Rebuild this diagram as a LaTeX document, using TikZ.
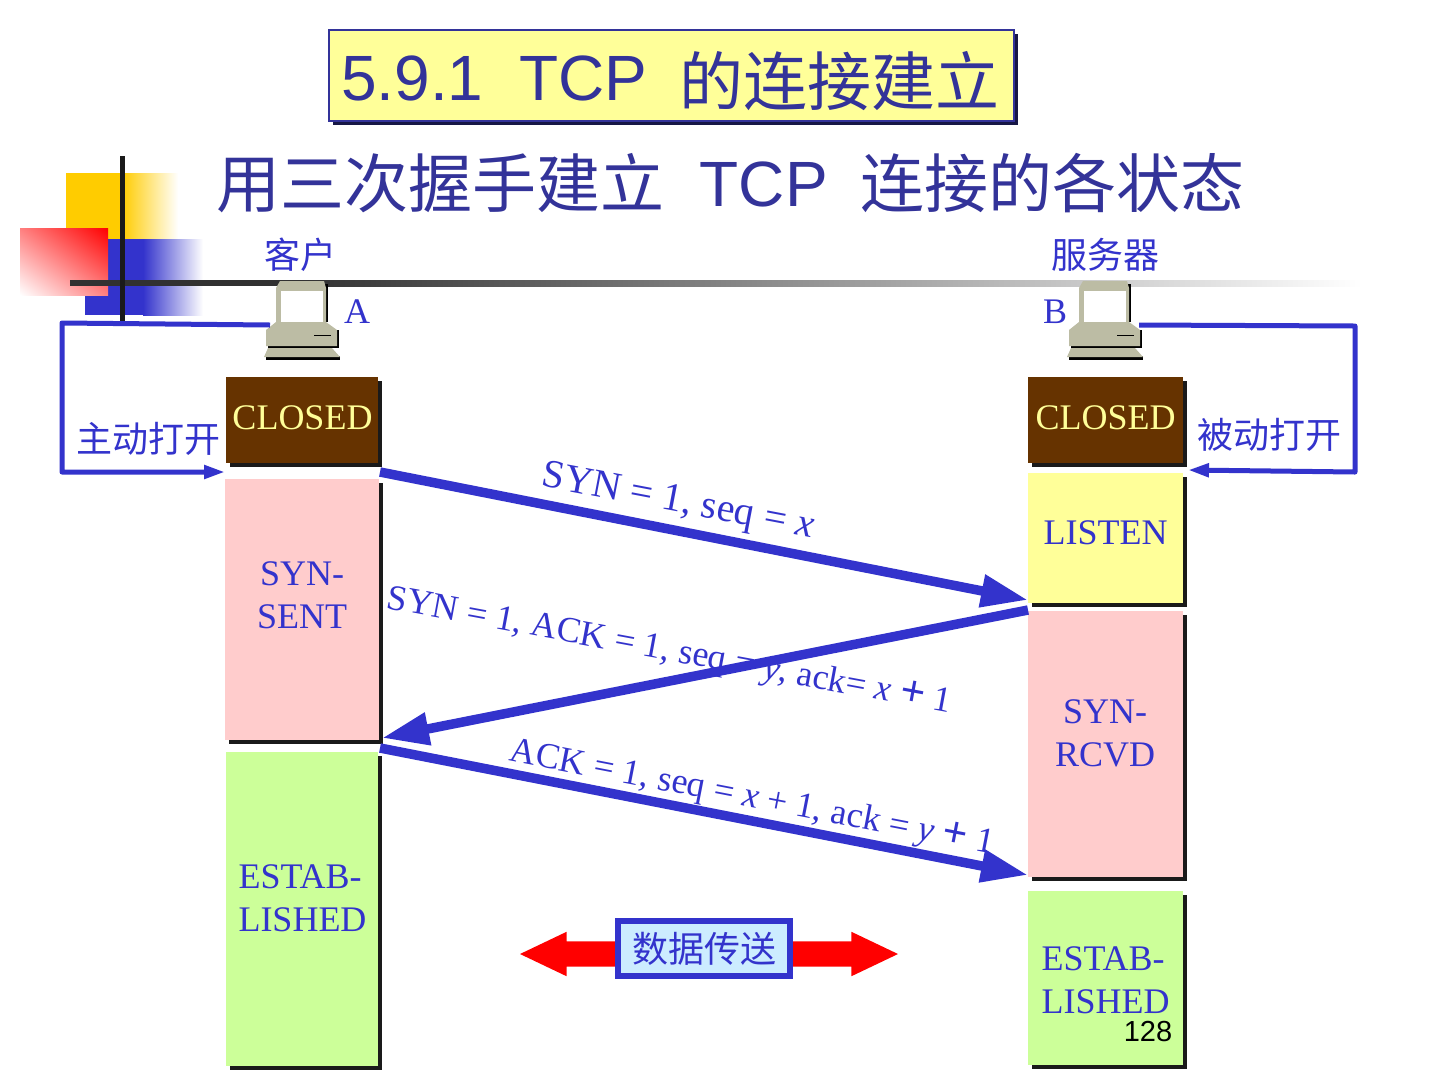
\documentclass[tikz,border=0pt]{standalone}
\usepackage{fontspec}
\setmainfont{Liberation Serif}
\setsansfont{Liberation Sans}
\newfontfamily\cjk{Noto Sans CJK SC}
\usetikzlibrary{arrows.meta,positioning,calc,shadows,shadings,shapes.arrows}
\definecolor{navy}{HTML}{333399}
\definecolor{blue}{HTML}{3333CC}
\definecolor{gold}{HTML}{FFCC00}
\definecolor{brown}{HTML}{663300}
\definecolor{cream}{HTML}{FFFF99}
\definecolor{pink}{HTML}{FFCCCC}
\definecolor{lime}{HTML}{CCFF99}
\definecolor{sky}{HTML}{CCECFF}
\definecolor{ink}{HTML}{1A1A1A}
\definecolor{putty}{HTML}{BCBCA4}
\newcommand{\bigplus}{{\fontsize{44}{44}\selectfont\textbf{+}}}
\tikzset{
  boxshadow/.style={drop shadow={shadow xshift=4pt,shadow yshift=-4pt,fill=ink,opacity=1}},
  statebox/.style={inner sep=0pt,outer sep=0pt,boxshadow},
  statetext/.style={align=center,text=blue,font=\fontsize{36}{43}\selectfont},
  msglabel/.style={text=blue,font=\fontsize{36}{36}\selectfont,inner sep=0pt},
  cnlabel/.style={text=blue,font=\cjk\fontsize{36}{36}\selectfont,inner sep=0pt},
  headline/.style={text=navy,font=\sffamily\fontsize{64}{64}\selectfont,inner sep=0pt},
  msgarrow/.style={blue,line width=9.5pt,-{Triangle[length=47pt,width=31pt]}},
  looparrow/.style={blue,line width=5pt,line join=round,-{Triangle[length=21pt,width=13pt]}},
  pics/pcbox/.style={code={
    \fill[black] (-20,-36) -- (26,-36) -- (26,2) -- (-20,2) -- cycle;
    \fill[putty] (-26,-32) -- (-22,-39) -- (22,-39) -- (24,-32) -- (24,2) -- (-26,2) -- cycle;
    \fill[white] (-21,-29) rectangle (21,2);
    \fill[black] (-34,10) -- (37,10) -- (37,28) -- (-34,28) -- cycle;
    \fill[putty] (-26,2) -- (24,2) -- (35,10) -- (35,26) -- (-36,26) -- (-36,10) -- cycle;
    \draw[black,line width=1pt] (12,15) -- (29,15);
    \fill[black] (-36,36) -- (38,36) -- (38,39.5) -- (-36,39.5) -- cycle;
    \fill[putty] (-34,28) -- (30,28) -- (38,37) -- (-38,37) -- cycle;
    \coordinate (-west) at (-32,5);
    \coordinate (-east) at (34,5);
  }}
}
\begin{document}
\begin{tikzpicture}[x=1pt,y=-1pt]
  \path[use as bounding box,fill=white] (0,0) rectangle (1440,1080);
  % Corner ornament and rule.
  \fill[gold] (66,173) rectangle (122,240);
  \shade[left color=gold,right color=white] (122,173) rectangle (178,240);
  \fill[blue] (85,239) rectangle (143,315);
  \shade[left color=blue,right color=white] (143,239) rectangle (203,315);
  \shade[upper right=red,lower left=white,upper left=red!50!white,lower right=red!50!white] (20,228) rectangle (108,295);
  \fill[ink!90] (70,280) rectangle (300,286);
  \shade[left color=ink!90,right color=white] (300,280) rectangle (1362,286);
  \draw[ink,line width=5pt] (122,156) -- (122,323);

  % Headings.
  \node[drop shadow={shadow xshift=4pt,shadow yshift=-4pt,fill=navy!45!black,opacity=1},fill=cream,draw=navy,line width=1.5pt,minimum width=685pt,minimum height=91pt] (title) at (671.5,75.5) {};
  \node[headline,anchor=base west] (titleText) at (341,100) {5.9.1\ \ TCP\ \ \hspace{-3pt}\raisebox{-5pt}{\cjk 的连接建立}};
  \node[headline,anchor=base west] (subtitle) at (216,206) {\raisebox{-1.5pt}{\cjk 用三次握手建立}\ \ TCP\ \ \hspace{-3pt}\raisebox{-1.5pt}{\cjk 连接的各状态}};

  % Computers.
  \pic (pcA) at (302,320) {pcbox};
  \pic (pcB) at (1105,320) {pcbox};
  \node[cnlabel] (client) at (300.5,255) {客户};
  \node[cnlabel] (server) at (1105,255) {服务器};
  \node[statetext] (nameA) at (357,312) {A};
  \node[statetext] (nameB) at (1055,312) {B};

  % State columns: name/centre x/centre y/width/height/fill.
  \foreach \nm/\xx/\yy/\ww/\hh/\cc in {
    closedA/302/420/152/86/brown,sent/302/609.5/154/261/pink,estabA/302/909/152/314/lime,
    closedB/1105.5/420/155/86/brown,listen/1105.5/538/155/130/cream,rcvd/1105.5/744/155/266/pink,estabB/1105.5/978/155/174/lime}{
    \node[statebox,fill=\cc,minimum width=\ww pt,minimum height=\hh pt] (\nm) at (\xx,\yy) {};
  }
  \foreach \nm/\xx/\yy/\txt in {
    sentText/302/595/{SYN-\\SENT},listenText/1105.5/533/{LISTEN},rcvdText/1105/733/{SYN-\\RCVD}}{
    \node[statetext] (\nm) at (\xx,\yy) {\txt};
  }
  \node[statetext,align=left] (estabAText) at (302.5,898) {ESTAB-\\LISHED};
  \node[statetext,align=left] (estabBText) at (1105.5,980) {ESTAB-\\LISHED};
  \node[statetext,text=cream] (closedAText) at (302.5,418) {CLOSED};
  \node[statetext,text=cream] (closedBText) at (1105.5,418) {CLOSED};

  % Open arrows.
  \node[cnlabel] (activeOpen) at (148.5,439) {主动打开};
  \node[cnlabel] (passiveOpen) at (1269,435) {被动打开};
  \draw[looparrow] (pcA-west) -- (62,323) -- (62,472) -- ([shift={(0,-7)}]sent.north west);
  \draw[looparrow] (pcB-east) -- (1355,326) -- (1355,472) -- ([shift={(5,-3)}]listen.north east);

  % Handshake, labels under the arrows.
  \node[msglabel,font=\fontsize{40}{40}\selectfont,rotate=-10.8] (msgSyn) at (677.5,503) {SYN = 1, seq = \textit{x}};
  \node[msglabel,rotate=-10.5] (msgAck) at (669,652) {SYN = 1, ACK = 1, seq = \textit{y}, ack= \textit{x} \bigplus{} 1};
  \node[msglabel,rotate=-11] (msgLast) at (752,799) {ACK = 1, seq = \textit{x} + 1, ack = \textit{y} \bigplus{} 1};
  \draw[msgarrow] ([shift={(2,9)}]closedA.south east) -- ([shift={(0,-3)}]listen.south west);
  \draw[msgarrow] ([shift={(0,-1)}]rcvd.north west) -- ([shift={(3,-2)}]sent.south east);
  \draw[msgarrow] ([shift={(2,-4)}]estabA.north east) -- ([shift={(0,-2)}]rcvd.south west);

  % Data transfer.
  \node[double arrow,fill=red,inner sep=0pt,minimum width=44pt,minimum height=378pt,double arrow head extend=9.5pt,double arrow tip angle=51,double arrow head indent=0pt] (dataArrow) at (709,954) {\rule{0pt}{25pt}};
  \node[draw=blue,fill=sky,line width=6pt,inner sep=0pt,minimum width=172pt,minimum height=55pt,cnlabel] (dataBox) at (704,948.5) {数据传送};

  \node[inner sep=0pt,font=\sffamily\fontsize{29}{29}\selectfont] (pageNo) at (1148,1031) {128};
\end{tikzpicture}
\end{document}
